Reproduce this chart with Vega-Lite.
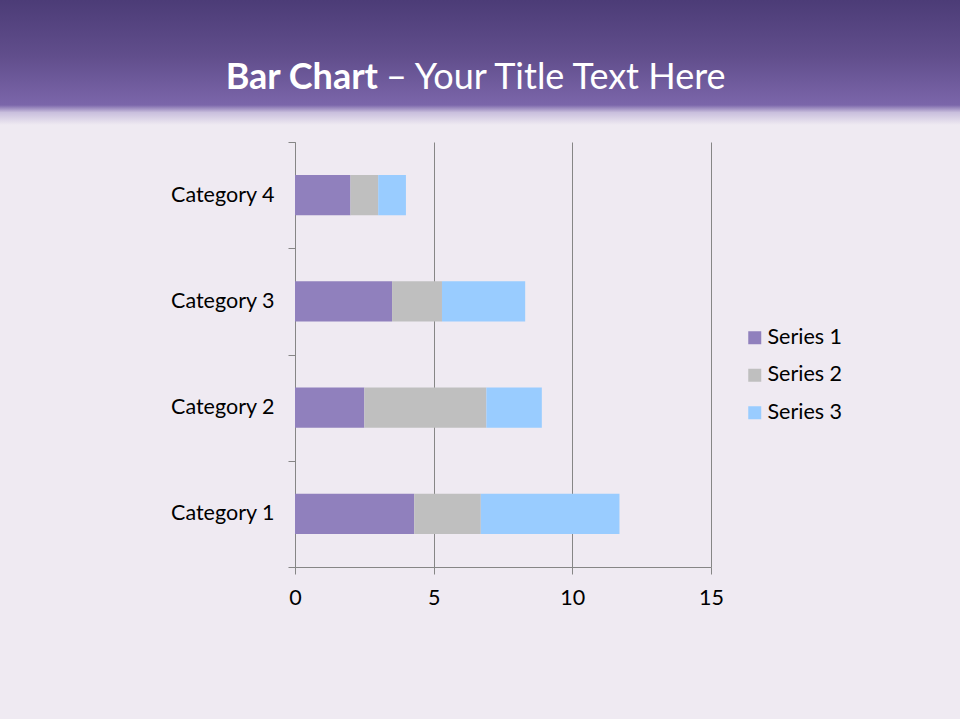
{
  "$schema": "https://vega.github.io/schema/vega-lite/v6.json",
  "background": "#efeaf2",
  "padding": 0,
  "autosize": {"type": "pad"},
  "spacing": 6,
  "resolve": {"scale": {"color": "independent"}, "legend": {"color": "independent"}},
  "config": {"view": {"stroke": null}, "font": "Lato"},
  "vconcat": [
    {
      "width": 960,
      "height": 125,
      "view": {
        "stroke": null,
        "fill": {
          "gradient": "linear",
          "x1": 0, "y1": 0, "x2": 0, "y2": 1,
          "stops": [
            {"offset": 0, "color": "#4c3c77"},
            {"offset": 0.45, "color": "#614e8c"},
            {"offset": 0.84, "color": "#7b66aa"},
            {"offset": 0.9, "color": "#c9bfdd"},
            {"offset": 1, "color": "#efeaf2"}
          ]
        }
      },
      "data": {"values": [{"bold": "Bar Chart", "rest": "– Your Title Text Here"}]},
      "layer": [
        {
          "mark": {"type": "text", "align": "right", "baseline": "alphabetic", "dx": -102, "dy": 26, "fontSize": 36, "fontWeight": "bold", "color": "#ffffff", "font": "Lato"},
          "encoding": {"text": {"field": "bold"}}
        },
        {
          "mark": {"type": "text", "align": "left", "baseline": "alphabetic", "dx": -94, "dy": 26, "fontSize": 36, "fontWeight": "normal", "color": "#ffffff", "font": "Lato"},
          "encoding": {"text": {"field": "rest"}}
        }
      ]
    },
    {
      "spacing": 0,
      "resolve": {"scale": {"color": "independent"}, "legend": {"color": "independent"}},
      "hconcat": [
        {
          "width": 1,
          "height": 425,
          "data": {"values": []},
          "mark": {"type": "text"}
        },
        {
          "width": 416,
          "height": 425,
          "data": {
            "values": [
              {"category": "Category 1", "series": "Series 1", "value": 4.3},
              {"category": "Category 1", "series": "Series 2", "value": 2.4},
              {"category": "Category 1", "series": "Series 3", "value": 5.0},
              {"category": "Category 2", "series": "Series 1", "value": 2.5},
              {"category": "Category 2", "series": "Series 2", "value": 4.4},
              {"category": "Category 2", "series": "Series 3", "value": 2.0},
              {"category": "Category 3", "series": "Series 1", "value": 3.5},
              {"category": "Category 3", "series": "Series 2", "value": 1.8},
              {"category": "Category 3", "series": "Series 3", "value": 3.0},
              {"category": "Category 4", "series": "Series 1", "value": 2.0},
              {"category": "Category 4", "series": "Series 2", "value": 1.0},
              {"category": "Category 4", "series": "Series 3", "value": 1.0}
            ]
          },
          "mark": {"type": "bar", "height": {"band": 0.38}},
          "encoding": {
            "y": {
              "field": "category",
              "type": "nominal",
              "sort": ["Category 4", "Category 3", "Category 2", "Category 1"],
              "scale": {"paddingInner": 0, "paddingOuter": 0},
              "axis": {
                "title": null,
                "domainColor": "#868686",
                "tickColor": "#868686",
                "tickSize": 7,
                "tickBand": "extent",
                "labelPadding": 14,
                "labelFontSize": 21.5,
                "labelFont": "Lato",
                "labelColor": "#000000",
                "grid": false,
                "minExtent": 294,
                "maxExtent": 294
              }
            },
            "x": {
              "field": "value",
              "type": "quantitative",
              "stack": "zero",
              "scale": {"domain": [0, 15], "nice": false},
              "axis": {
                "title": null,
                "values": [0, 5, 10, 15],
                "grid": true,
                "gridColor": "#868686",
                "gridOpacity": 1,
                "domainColor": "#868686",
                "tickColor": "#868686",
                "tickSize": 7,
                "labelPadding": 13,
                "labelFontSize": 21.5,
                "labelFont": "Lato",
                "labelColor": "#000000",
                "labelFlush": false,
                "minExtent": 152,
                "maxExtent": 152
              }
            },
            "color": {
              "field": "series",
              "type": "nominal",
              "scale": {"domain": ["Series 1", "Series 2", "Series 3"], "range": ["#9080bd", "#bfbfbf", "#99ccff"]},
              "legend": {
                "title": null,
                "orient": "none",
                "legendX": 449,
                "legendY": 185,
                "padding": 0,
                "symbolType": "square",
                "symbolSize": 169,
                "symbolStrokeWidth": 0,
                "labelFontSize": 21.5,
                "labelFont": "Lato",
                "labelColor": "#000000",
                "labelOffset": 2,
                "rowPadding": 14.5
              }
            }
          }
        }
      ]
    }
  ]
}
